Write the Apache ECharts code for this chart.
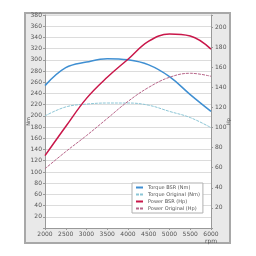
<!DOCTYPE html>
<html><head><meta charset="utf-8">
<script src="https://cdn.jsdelivr.net/npm/echarts@6/dist/echarts.min.js"></script>
<style>html,body{margin:0;padding:0;background:#fff}#c{width:256px;height:256px}</style>
</head><body><div id="c"></div>
<script>
var rpm = [2000, 2500, 3000, 3500, 4000, 4500, 5000, 5500, 6000];
var torqueBSR = [254, 286, 296, 302, 300, 291, 270, 238, 208];
var torqueOrig = [200, 216, 221, 223, 223, 219, 208, 197, 179];
var powerBSR = [72, 101, 129, 150, 168, 186, 193, 191, 178];
var powerOrig = [59, 76, 92, 109, 126, 140, 150, 154, 151];
var names = ['Torque BSR (Nm)', 'Torque Original (Nm)', 'Power BSR (Hp)', 'Power Original (Hp)'];

function pairs(ys){ return rpm.map(function(x,i){ return [x, ys[i]]; }); }

var chart = echarts.init(document.getElementById('c'), null, {renderer:'canvas'});
var font = 'DejaVu Sans';
chart.setOption({
  animation: false,
  textStyle: {fontFamily: font},
  graphic: [{type:'rect', z:-10, shape:{x:25,y:13,width:205,height:230}, style:{fill:'#e9e9e9', stroke:'#a8a8a8', lineWidth:2}}],
  grid: {left:45, right:45, top:15, bottom:28, show:true, backgroundColor:'#fff', borderWidth:0},
  legend: {
    orient:'vertical', left:132, top:183, data:names,
    backgroundColor:'#fff', borderColor:'#b0b0b0', borderWidth:1, borderRadius:0,
    padding:[2,3,2,3], itemGap:2, itemWidth:7, itemHeight:6,
    itemStyle:{opacity:0},
    textStyle:{fontSize:5, color:'#555', fontFamily:font}
  },
  xAxis: {
    type:'value', min:2000, max:6000, interval:500,
    axisLine:{lineStyle:{color:'#999'}}, axisTick:{length:2, lineStyle:{color:'#999'}},
    splitLine:{show:false},
    axisLabel:{fontSize:6, color:'#555', margin:3, lineHeight:7,
      formatter:function(v){ return v===6000 ? '6000\nrpm' : String(v); }}
  },
  yAxis: [{
    type:'value', min:0, max:380, interval:20, name:'Nm', nameLocation:'middle', nameGap:14,
    nameMoveOverlap:false,
    nameTextStyle:{fontSize:5, color:'#555'},
    axisLine:{show:true, lineStyle:{color:'#999'}}, axisTick:{show:true, length:2, lineStyle:{color:'#999'}},
    splitLine:{lineStyle:{color:'#dcdcdc'}},
    axisLabel:{fontSize:6, color:'#555', margin:3, formatter:function(v){ return v===0?'':String(v); }}
  },{
    type:'value', min:0, max:212, interval:20, name:'Hp', nameLocation:'middle', nameGap:15,
    nameMoveOverlap:false,
    nameTextStyle:{fontSize:5, color:'#555'},
    axisLine:{show:true, lineStyle:{color:'#999'}}, axisTick:{show:true, length:2, lineStyle:{color:'#999'}},
    splitLine:{show:false},
    axisLabel:{fontSize:6, color:'#555', margin:4, formatter:function(v){ return (v===0||v%20!==0)?'':String(v); }}
  }],
  series: [
    {name:names[0], type:'line', yAxisIndex:0, data:pairs(torqueBSR), smooth:0.4, symbol:'none',
      lineStyle:{color:'#3f8fd2', width:1.5}, itemStyle:{color:'#3f8fd2'}},
    {name:names[1], type:'line', yAxisIndex:0, data:pairs(torqueOrig), smooth:0.4, symbol:'none',
      lineStyle:{color:'#8cc6d6', width:1, type:[3,1]}, itemStyle:{color:'#8cc6d6'}},
    {name:names[2], type:'line', yAxisIndex:1, data:pairs(powerBSR), smooth:0.4, symbol:'none',
      lineStyle:{color:'#c9174a', width:1.5}, itemStyle:{color:'#c9174a'}},
    {name:names[3], type:'line', yAxisIndex:1, data:pairs(powerOrig), smooth:0.4, symbol:'none',
      lineStyle:{color:'#b8668a', width:1, type:[3,1]}, itemStyle:{color:'#b8668a'}}
  ]
});
</script></body></html>
